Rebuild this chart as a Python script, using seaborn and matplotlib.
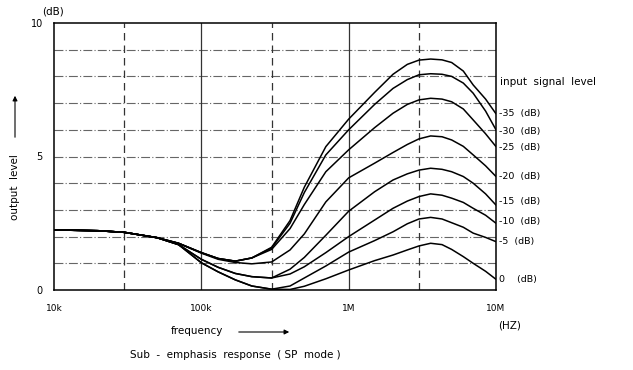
import matplotlib
matplotlib.use("Agg")
import matplotlib.pyplot as plt
import seaborn as sns
import pandas as pd

sns.set_theme(style="white")
plt.rcParams['font.family'] = ['DejaVu Sans']
plt.rcParams['text.color'] = 'black'
plt.rcParams['xtick.color'] = 'black'
plt.rcParams['ytick.color'] = 'black'

freq = [1e4, 2e4, 3e4, 5e4, 7e4, 1e5, 1.3e5, 1.7e5, 2.2e5, 3e5, 4e5, 5e5, 7e5,
        1e6, 1.5e6, 2e6, 2.5e6, 3e6, 3.6e6, 4.3e6, 5e6, 6e6, 7e6, 8.5e6, 1e7]
levels = ["-35", "-30", "-25", "-20", "-15", "-10", "-5", "0"]
lvl_m35 = [2.25, 2.22, 2.16, 1.96, 1.75, 1.40, 1.18, 1.08, 1.20, 1.60, 2.60, 3.85, 5.37,
           6.40, 7.40, 8.08, 8.45, 8.61, 8.65, 8.62, 8.52, 8.20, 7.68, 7.15, 6.60]
lvl_m30 = [2.25, 2.22, 2.16, 1.96, 1.75, 1.40, 1.18, 1.08, 1.20, 1.57, 2.50, 3.65, 5.06,
           6.00, 6.95, 7.55, 7.88, 8.06, 8.10, 8.08, 8.00, 7.75, 7.37, 6.70, 6.00]
lvl_m25 = [2.25, 2.22, 2.16, 1.96, 1.75, 1.40, 1.18, 1.08, 1.20, 1.52, 2.30, 3.20, 4.43,
           5.25, 6.08, 6.62, 6.95, 7.12, 7.18, 7.15, 7.05, 6.78, 6.37, 5.85, 5.37]
lvl_m20 = [2.25, 2.22, 2.16, 1.96, 1.75, 1.38, 1.15, 1.03, 0.98, 1.05, 1.50, 2.10, 3.30,
           4.20, 4.75, 5.15, 5.45, 5.66, 5.77, 5.74, 5.62, 5.38, 5.06, 4.65, 4.25]
lvl_m15 = [2.25, 2.22, 2.16, 1.96, 1.70, 1.15, 0.85, 0.62, 0.50, 0.45, 0.78, 1.22, 2.05,
           2.95, 3.68, 4.12, 4.35, 4.49, 4.56, 4.52, 4.43, 4.25, 4.00, 3.60, 3.18]
lvl_m10 = [2.25, 2.22, 2.16, 1.96, 1.70, 1.15, 0.85, 0.62, 0.50, 0.45, 0.60, 0.87, 1.40,
           2.00, 2.62, 3.06, 3.33, 3.50, 3.60, 3.55, 3.44, 3.28, 3.06, 2.80, 2.50]
lvl_m5 = [2.25, 2.22, 2.16, 1.96, 1.70, 1.02, 0.68, 0.38, 0.15, 0.03, 0.15, 0.45, 0.90,
          1.42, 1.85, 2.18, 2.48, 2.66, 2.72, 2.66, 2.52, 2.35, 2.13, 1.97, 1.81]
lvl_0 = [2.25, 2.22, 2.16, 1.96, 1.70, 1.02, 0.68, 0.38, 0.15, 0.03, 0.02, 0.14, 0.42,
         0.75, 1.10, 1.31, 1.50, 1.65, 1.75, 1.70, 1.52, 1.25, 1.00, 0.70, 0.40]
series = [lvl_m35, lvl_m30, lvl_m25, lvl_m20, lvl_m15, lvl_m10, lvl_m5, lvl_0]

xtick_vals = [1e4, 1e5, 1e6, 1e7]
xtick_labels = ["10k", "100k", "1M", "10M"]
ytick_vals = [0, 5, 10]
ytick_labels = ["0", "5", "10"]
label_y = [6.6, 5.95, 5.35, 4.25, 3.33, 2.58, 1.8, 0.4]

rows = []
for lv, vals in zip(levels, series):
    for f, v in zip(freq, vals):
        rows.append({"freq": f, "level": lv, "out": v})
df = pd.DataFrame(rows)

fig = plt.figure(figsize=(6.33, 3.70), dpi=100)
ax = fig.add_axes([54/633, 80/370, 442/633, 267/370])

# grid
for yv in range(1, 10):
    ax.axhline(yv, color="#666666", lw=0.8, ls=(0, (8, 2, 1, 2)), zorder=1)
for xv in [1e5, 1e6]:
    ax.axvline(xv, color="#333333", lw=0.9, zorder=1)
for xv in [3e4, 3e5, 3e6]:
    ax.axvline(xv, color="#333333", lw=0.9, ls=(0, (6, 4)), zorder=1)

sns.lineplot(data=df, x="freq", y="out", hue="level", hue_order=levels,
             palette=["black"] * len(levels), legend=False, ax=ax,
             linewidth=1.1, zorder=3)

ax.set_xscale("log")
ax.set_xlim(1e4, 1e7)
ax.set_ylim(0, 10)
ax.set_xticks(xtick_vals)
ax.set_xticklabels(xtick_labels, fontsize=6.5)
ax.minorticks_off()
ax.set_yticks(ytick_vals)
ax.set_yticklabels(ytick_labels, fontsize=7)
ax.tick_params(axis="both", length=0, pad=8)
ax.tick_params(axis="x", pad=10)
ax.set_xlabel("")
ax.set_ylabel("")
for s in ax.spines.values():
    s.set_color("black")
    s.set_linewidth(1.1)

# right-side labels
fig.text(500/633, 1 - 82/370, "input  signal  level", fontsize=7.5, va="center", ha="left")
for lv, yv in zip(levels, label_y):
    py = 290 - yv * 26.7
    txt = (lv if lv != "0" else "0  ") + "  (dB)"
    fig.text(499/633, 1 - py/370, txt, fontsize=6.8, va="center", ha="left")

fig.text(53/633, 1 - 12/370, "(dB)", fontsize=7.5, ha="center", va="center")
fig.text(510/633, 1 - 325/370, "(HZ)", fontsize=7.5, ha="center", va="center")

fig.text(15/633, 1 - 187/370, "output  level", fontsize=7.5, rotation=90,
         ha="center", va="center")
fig.add_artist(matplotlib.patches.FancyArrowPatch(
    (15/633, 1 - 140/370), (15/633, 1 - 93/370), transform=fig.transFigure,
    arrowstyle="-|>", mutation_scale=7, lw=0.8, color="black"))

fig.text(197/633, 1 - 331/370, "frequency", fontsize=7.5, ha="center", va="center")
fig.add_artist(matplotlib.patches.FancyArrowPatch(
    (236/633, 1 - 332/370), (292/633, 1 - 332/370), transform=fig.transFigure,
    arrowstyle="-|>", mutation_scale=7, lw=0.8, color="black"))

fig.text(235/633, 1 - 355/370, "Sub  -  emphasis  response  ( SP  mode )",
         fontsize=7.5, ha="center", va="center")

fig.savefig("out.png", dpi=100)
